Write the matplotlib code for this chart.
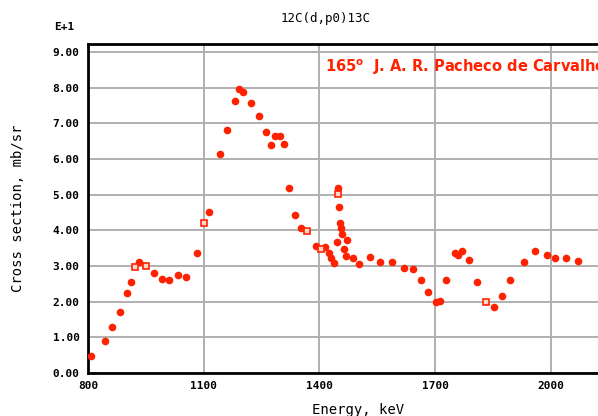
import numpy as np
import matplotlib
matplotlib.use('Agg')
import matplotlib.pyplot as plt


# data (cross section in units of E+1 mb/sr)
energy = [808, 843, 862, 882, 902, 911, 932, 971, 993, 1011, 1033, 1053,
          1083, 1113, 1143, 1161, 1182, 1192, 1202, 1223, 1242, 1262, 1274,
          1284, 1298, 1307, 1322, 1337, 1351, 1390, 1414, 1424, 1430, 1439,
          1445, 1448, 1451, 1454, 1457, 1459, 1472, 1463, 1469, 1486, 1503,
          1531, 1558, 1588, 1619, 1643, 1663, 1682, 1703, 1713, 1729, 1752,
          1760, 1769, 1789, 1809, 1853, 1873, 1894, 1930, 1959, 1989, 2011,
          2040, 2071]
xsec = [0.49, 0.91, 1.30, 1.70, 2.24, 2.56, 3.12, 2.81, 2.63, 2.60, 2.76, 2.68,
        3.36, 4.52, 6.13, 6.81, 7.63, 7.95, 7.87, 7.57, 7.21, 6.76, 6.40,
        6.65, 6.65, 6.42, 5.18, 4.42, 4.06, 3.56, 3.54, 3.36, 3.22, 3.09,
        3.68, 5.20, 4.65, 4.22, 4.06, 3.89, 3.73, 3.48, 3.28, 3.22, 3.06,
        3.25, 3.10, 3.10, 2.94, 2.92, 2.62, 2.28, 1.99, 2.01, 2.62, 3.36,
        3.32, 3.41, 3.16, 2.54, 1.86, 2.15, 2.61, 3.10, 3.42, 3.32, 3.23,
        3.23, 3.13]
# points drawn as open squares
energy_open = [921, 950, 1101, 1367, 1403, 1448, 1831]
xsec_open = [2.97, 3.00, 4.22, 3.99, 3.48, 5.02, 1.99]

x_ticks = [800, 1100, 1400, 1700, 2000]
y_ticks = np.arange(0, 10, 1)

RED = '#ff2200'
MONO = 'DejaVu Sans Mono'

fig = plt.figure(figsize=(5.98, 4.16), dpi=100)
ax = fig.add_axes([0.1472, 0.1031, 0.903, 0.791])

ax.plot(energy, xsec, 'o', color=RED, markersize=5.5, markeredgewidth=0, zorder=3)
ax.plot(energy_open, xsec_open, 's', color=RED, markerfacecolor='#ffd8cc',
        markersize=5, markeredgewidth=1.2, zorder=3)

ax.set_xlim(800, 2200)
ax.set_ylim(0, 9.22)
ax.set_xticks(x_ticks)
ax.set_xticklabels([str(v) for v in x_ticks], fontfamily=MONO,
                   fontweight='bold', fontsize=8)
ax.set_yticks(y_ticks)
ax.set_yticklabels(['%.2f' % v for v in y_ticks], fontfamily=MONO,
                   fontweight='bold', fontsize=8)
ax.tick_params(length=0, pad=6)
ax.grid(True, color='#b0b0b0', linewidth=1.4)
ax.set_axisbelow(True)
for s in ['left', 'top', 'bottom']:
    ax.spines[s].set_linewidth(2)
ax.spines['right'].set_visible(False)

ax.set_xlabel('Energy, keV', fontfamily=MONO, fontsize=10, labelpad=8)
ax.set_ylabel('Cross section, mb/sr', fontfamily=MONO, fontsize=10, labelpad=20)

fig.text(0.545, 0.955, '12C(d,p0)13C', fontfamily=MONO, fontsize=9,
         ha='center', va='center')
fig.text(0.108, 0.935, 'E+1', fontfamily=MONO, fontweight='bold', fontsize=8,
         ha='center', va='center')
fig.text(0.543, 0.838, r'165$^{\mathbf{o}}$  J. A. R. Pacheco de Carvalho',
         color=RED, fontfamily='DejaVu Sans', fontweight='bold',
         fontsize=10.5, ha='left', va='center')

fig.savefig('out.png', dpi=100)
